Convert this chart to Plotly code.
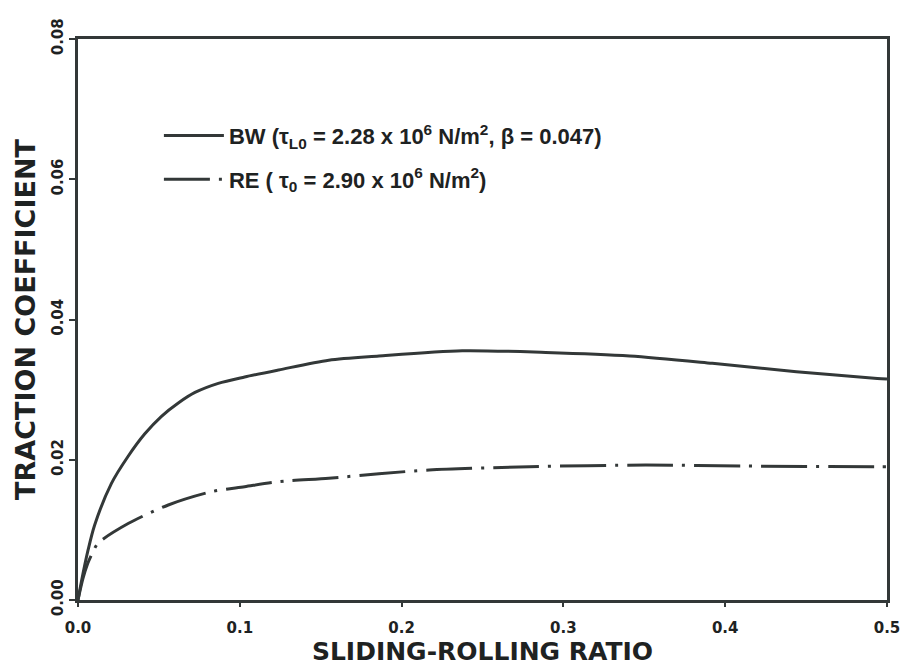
import plotly.graph_objects as go

# BW curve (solid)
bw_x = [0.0, 0.002, 0.0062, 0.0103, 0.0206, 0.031, 0.0413, 0.0516, 0.062, 0.0723,
        0.0867, 0.103, 0.124, 0.155, 0.186, 0.2375, 0.289, 0.341, 0.392, 0.444, 0.494, 0.5]
bw_y = [0.0, 0.0025, 0.0071, 0.0107, 0.0166, 0.0205, 0.0237, 0.0262, 0.0281, 0.0296,
        0.0309, 0.0318, 0.0328, 0.0342, 0.0348, 0.03555, 0.0353, 0.0348, 0.03376, 0.03256, 0.0316, 0.0315]

# RE curve (dash-dot)
re_x = [0.0, 0.003, 0.006, 0.0093, 0.0124, 0.031, 0.0558, 0.0826, 0.103, 0.124, 0.155,
        0.186, 0.217, 0.279, 0.351, 0.413, 0.494, 0.5]
re_y = [0.0, 0.003, 0.0052, 0.0069, 0.0081, 0.0109, 0.01355, 0.01545, 0.01616, 0.01687, 0.01736,
        0.0180, 0.01854, 0.0190, 0.01925, 0.0191, 0.0190, 0.0190]

x_ticks = [0.0, 0.1, 0.2, 0.3, 0.4, 0.5]
x_tick_labels = ["0.0", "0.1", "0.2", "0.3", "0.4", "0.5"]
y_ticks = [0.0, 0.02, 0.04, 0.06, 0.08]
y_tick_labels = ["0.00", "0.02", "0.04", "0.06", "0.08"]

bw_name = "BW (τ<sub>L0</sub> = 2.28 x 10<sup>6</sup> N/m<sup>2</sup>, β = 0.047)"
re_name = "RE ( τ<sub>0</sub> = 2.90 x 10<sup>6</sup> N/m<sup>2</sup>)"

ink = "#333838"
txt = "#1e2222"
arial = "Liberation Sans, Arial, sans-serif"
wide = "DejaVu Sans, Verdana, sans-serif"

fig = go.Figure()
fig.add_trace(go.Scatter(x=bw_x, y=bw_y, mode="lines", name=bw_name, legendgroup="a",
                         line=dict(color=ink, width=3, shape="spline", smoothing=0.8)))
fig.add_trace(go.Scatter(x=re_x, y=re_y, mode="lines", name=re_name, legendgroup="b",
                         line=dict(color=ink, width=3, shape="spline", smoothing=0.8,
                                   dash="46px,9px,3px,9px")))

fig.update_layout(
    width=913, height=670,
    margin=dict(l=78, r=26, t=39, b=70),
    paper_bgcolor="white", plot_bgcolor="white",
    font=dict(family=arial, color=txt),
    showlegend=True,
    legend=dict(x=0.1, y=0.865, xanchor="left", yanchor="top",
                bgcolor="rgba(0,0,0,0)", itemwidth=60, tracegroupgap=12,
                font=dict(size=22, family=arial, color=txt, weight="bold")),
    xaxis=dict(range=[0, 0.5], tickvals=x_ticks, ticktext=x_tick_labels,
               showgrid=False, zeroline=False, showline=True, mirror=True,
               linecolor=ink, linewidth=3, ticks="outside", ticklen=4, tickwidth=1.5,
               tickcolor=ink, ticklabelstandoff=8,
               tickfont=dict(size=15, family=wide, color=txt, weight="bold"),
               title=dict(text="<b>SLIDING-ROLLING RATIO</b>", standoff=2,
                          font=dict(size=25, family=wide, color=txt))),
    yaxis=dict(range=[0, 0.08], tickvals=y_ticks, ticktext=y_tick_labels,
               showgrid=False, zeroline=False, showline=True, mirror=True,
               linecolor=ink, linewidth=3, ticks="outside", ticklen=6, tickwidth=1.5,
               tickcolor=ink, tickangle=-90,
               tickfont=dict(size=15, family=wide, color=txt, weight="bold"),
               title=dict(text="<b>TRACTION COEFFICIENT</b>", standoff=6,
                          font=dict(size=27, family=wide, color=txt))),
)

fig.write_html("out.html")
